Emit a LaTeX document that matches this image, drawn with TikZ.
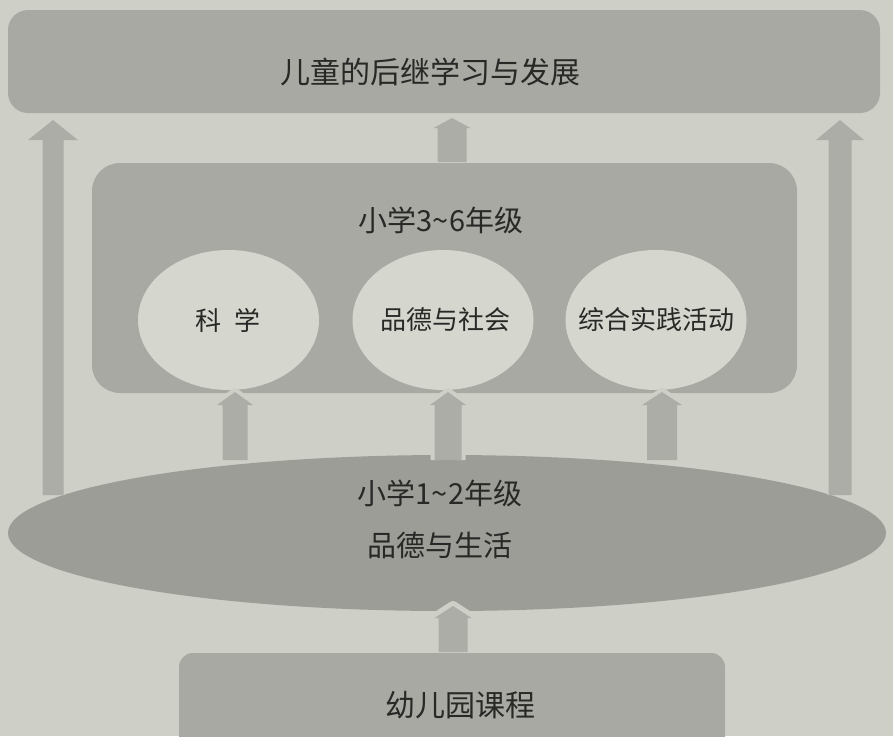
\documentclass[tikz,border=0pt]{standalone}
\usepackage{fontspec}
\usetikzlibrary{shapes.geometric}
\newfontfamily\cjksans{Noto Sans CJK SC}
\definecolor{bgc}{RGB}{206,207,199}
\definecolor{boxc}{RGB}{168,169,163}
\definecolor{ellc}{RGB}{156,157,151}
\definecolor{circc}{RGB}{213,214,206}
\definecolor{arrc}{RGB}{172,173,167}
\definecolor{txtc}{RGB}{40,40,38}
\newcommand\blockarrow[7]{%
  \draw[bgc, line width=#7, line join=round]
    (#1-#4/2,#2) -- (#1-#4/2,#3+#6) -- (#1-#5/2,#3+#6) -- (#1,#3) --
    (#1+#5/2,#3+#6) -- (#1+#4/2,#3+#6) -- (#1+#4/2,#2);
  \fill[arrc]
    (#1-#4/2,#2) -- (#1-#4/2,#3+#6) -- (#1-#5/2,#3+#6) -- (#1,#3) --
    (#1+#5/2,#3+#6) -- (#1+#4/2,#3+#6) -- (#1+#4/2,#2) -- cycle;}
\tikzset{
  boxs/.style={fill=boxc, draw=none, inner sep=0pt},
  circs/.style={ellipse, fill=circc, draw=none, inner sep=0pt, minimum width=181pt, minimum height=140pt},
  sanslab/.style={text=txtc, inner sep=0pt, font=\cjksans\fontsize{30}{36}\selectfont},
  seriflab/.style={text=txtc, inner sep=0pt, font=\cjksans\fontsize{29}{34}\selectfont},
  circlab/.style={text=txtc, inner sep=0pt, font=\cjksans\fontsize{26}{30}\selectfont},
}
\begin{document}
\begin{tikzpicture}[x=1pt,y=-1pt]
\useasboundingbox (0,0) rectangle (893,736);
\fill[bgc] (0,0) rectangle (893,736);
% top box
\node[boxs, rounded corners=20pt, minimum width=872pt, minimum height=103pt] (top) at (444,61.5) {};
\node[sanslab] (toptxt) at (430,72) {儿童的后继学习与发展};
% middle box
\node[boxs, rounded corners=28pt, minimum width=705pt, minimum height=230pt] (mid) at (444.5,278) {};
\node[seriflab] (midtxt) at (441,220) {小学3\char"007E 6年级};
\node[circs] (c1) at (228.5,320) {};
\node[circs] (c2) at (443,320) {};
\node[circs] (c3) at (656,320) {};
\node[circlab] (c1t) at (228,320) {科\hspace{13pt}学};
\node[circlab] (c2t) at (445,320) {品德与社会};
\node[circlab] (c3t) at (656,320) {综合实践活动};
% big ellipse
\node[ellipse, fill=ellc, draw=none, inner sep=0pt, minimum width=878pt, minimum height=156pt] (ell) at (447,533) {};
\node[seriflab] (elltxt1) at (440,493) {小学1\char"007E 2年级};
\node[seriflab] (elltxt2) at (440,545) {品德与生活};
% bottom box
\node[boxs, rounded corners=14pt, minimum width=546pt, minimum height=100pt] (bot) at (452,703) {};
\node[sanslab] (bottxt) at (460,705) {幼儿园课程};
% arrows
\blockarrow{452}{162}{118}{29}{37}{10}{6pt}
\blockarrow{53}{495}{120}{21}{50}{20}{2pt}
\blockarrow{840}{495}{120}{23}{48}{20}{2pt}
\blockarrow{235}{460}{392}{25}{36}{13}{8pt}
\blockarrow{448}{460}{392}{27}{36}{13}{8pt}
\blockarrow{662}{460}{392}{30}{40}{13}{8pt}
\blockarrow{453}{652}{606}{29}{37}{12}{10pt}
\end{tikzpicture}
\end{document}
